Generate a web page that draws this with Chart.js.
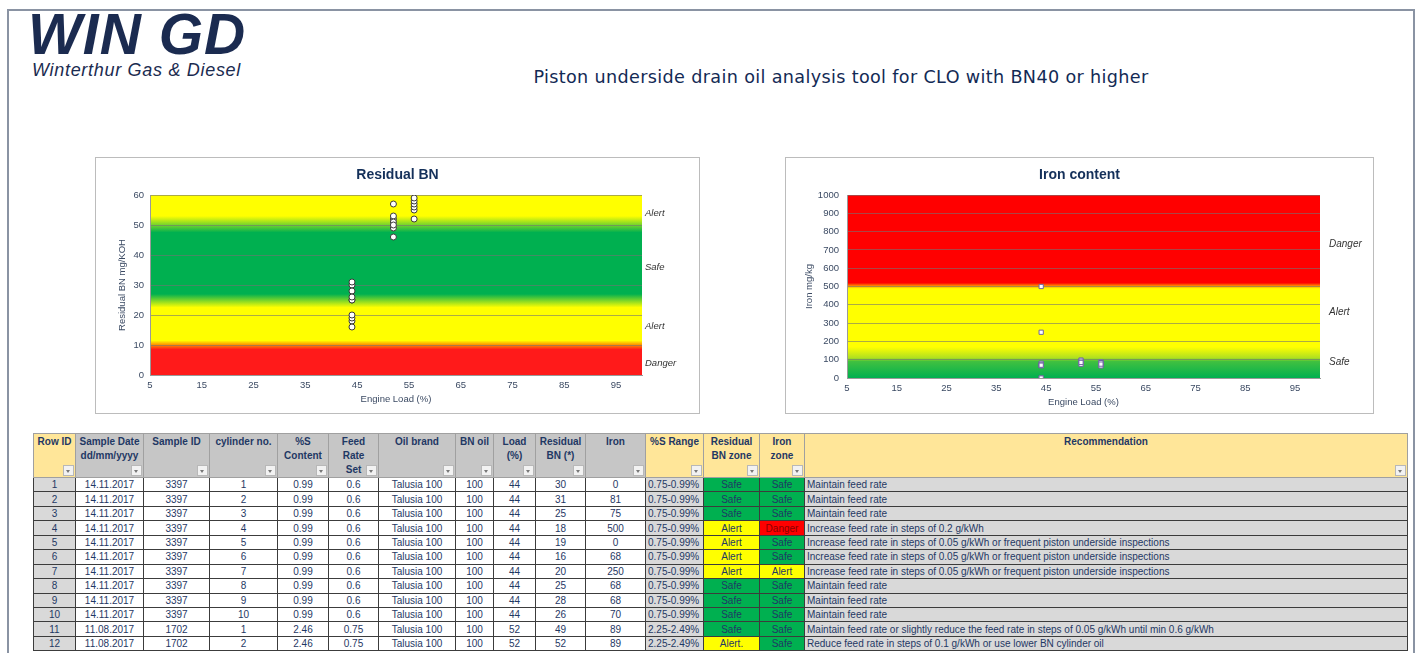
<!DOCTYPE html>
<html lang="en">
<head>
    <meta charset="UTF-8">
    <title>Piston underside drain oil analysis tool</title>
    <style>
        body {
            margin: 0;
            width: 1419px;
            height: 653px;
            overflow: hidden;
            background: #fff;
            font-family: "Liberation Sans", Arial, sans-serif;
            position: relative;
        }
        .frame {
            position: absolute;
            left: 7px;
            top: 9px;
            width: 1404px;
            height: 700px;
            border: 2px solid #8a93a3;
            border-bottom: none;
        }
        .logo {
            position: absolute;
            left: 28px;
            top: 6px;
            font-size: 57px;
            line-height: 57px;
            font-weight: bold;
            font-style: italic;
            color: #1b2b50;
            letter-spacing: 1px;
        }
        .logo-sub {
            position: absolute;
            left: 32px;
            top: 61px;
            font-size: 18px;
            line-height: 18px;
            font-style: italic;
            color: #1b2b50;
            letter-spacing: 0.7px;
        }
        .page-title {
            position: absolute;
            left: 441px;
            top: 67px;
            width: 800px;
            text-align: center;
            font-family: "DejaVu Sans", Verdana, sans-serif;
            font-size: 17.6px;
            line-height: 20px;
            letter-spacing: 0.35px;
            color: #132a55;
        }
        .chart-box {
            position: absolute;
            border: 1px solid #bcbcbc;
            background: #fff;
        }
        .chart-box canvas {
            display: block;
        }
        #sheet {
            position: absolute;
            left: 33px;
            top: 433px;
            width: 1374px;
            border-collapse: collapse;
            table-layout: fixed;
            color: #1f3864;
        }
        #sheet th {
            height: 42px;
            padding: 1px 2px 0;
            vertical-align: top;
            font-size: 10px;
            line-height: 14px;
            font-weight: bold;
            border: 1px solid #a0a0a0;
            position: relative;
            white-space: pre-line;
        }
        #sheet td {
            height: 13.45px;
            padding: 0 2px;
            font-size: 10px;
            line-height: 13px;
            border: 1px solid #3c3c3c;
            white-space: nowrap;
            overflow: hidden;
        }
        .flt {
            position: absolute;
            right: 1px;
            bottom: 1px;
            width: 11px;
            height: 11px;
            box-sizing: border-box;
            background: #f2f2f2;
            border: 1px solid #b8b8b8;
        }
        .flt::after {
            content: '';
            position: absolute;
            left: 2px;
            top: 4px;
            border-left: 2.5px solid transparent;
            border-right: 2.5px solid transparent;
            border-top: 3px solid #777;
        }
    </style>
    <script src="https://cdn.jsdelivr.net/npm/chart.js"></script>
</head>
<body>

    <div class="frame"></div>
    <div class="logo">WIN GD</div>
    <div class="logo-sub">Winterthur Gas &amp; Diesel</div>
    <div class="page-title">Piston underside drain oil analysis tool for CLO with BN40 or higher</div>

    <div class="chart-box" style="left:95px; top:157px;">
        <canvas id="bnChart" width="603" height="255"></canvas>
    </div>
    <div class="chart-box" style="left:785px; top:157px;">
        <canvas id="ironChart" width="587" height="255"></canvas>
    </div>

    <table id="sheet"></table>

    <script>
        // ---- chart data: every sample (load %, residual BN, iron) ----
        const loadTicks = [5, 15, 25, 35, 45, 55, 65, 75, 85, 95];
        const sampleLoad = [44, 44, 44, 44, 44, 44, 44, 44, 44, 44,
                            52, 52, 52, 52, 52, 52, 52,
                            56, 56, 56, 56, 56, 56];
        const sampleBN = [30, 31, 25, 18, 19, 16, 20, 25, 28, 26,
                          49, 52, 57, 53, 51, 50, 46,
                          52, 55, 56, 57, 58, 59];
        const sampleIron = [0, 81, 75, 500, 0, 68, 250, 68, 68, 70,
                            89, 89, 98, 80, 75, 92, 85,
                            88, 80, 72, 66, 84, 76];

        const bnZoneNames = ['Alert', 'Safe', 'Alert', 'Danger'];
        const bnZoneAt = [54, 36, 16.3, 4];
        const ironZoneNames = ['Danger', 'Alert', 'Safe'];
        const ironZoneAt = [732, 360, 86];

        // ---- table data: first rows of the sample list ----
        const rowIds = [1, 2, 3, 4, 5, 6, 7, 8, 9, 10, 11, 12];
        const sampleDates = ['14.11.2017', '14.11.2017', '14.11.2017', '14.11.2017', '14.11.2017', '14.11.2017',
                             '14.11.2017', '14.11.2017', '14.11.2017', '14.11.2017', '11.08.2017', '11.08.2017'];
        const sampleIds = [3397, 3397, 3397, 3397, 3397, 3397, 3397, 3397, 3397, 3397, 1702, 1702];
        const cylinders = [1, 2, 3, 4, 5, 6, 7, 8, 9, 10, 1, 2];
        const sulphur = ['0.99', '0.99', '0.99', '0.99', '0.99', '0.99', '0.99', '0.99', '0.99', '0.99', '2.46', '2.46'];
        const feedRates = ['0.6', '0.6', '0.6', '0.6', '0.6', '0.6', '0.6', '0.6', '0.6', '0.6', '0.75', '0.75'];
        const oilBrands = Array(12).fill('Talusia 100');
        const bnOil = Array(12).fill(100);
        const loads = [44, 44, 44, 44, 44, 44, 44, 44, 44, 44, 52, 52];
        const residualBN = [30, 31, 25, 18, 19, 16, 20, 25, 28, 26, 49, 52];
        const ironContent = [0, 81, 75, 500, 0, 68, 250, 68, 68, 70, 89, 89];
        const sRanges = ['0.75-0.99%', '0.75-0.99%', '0.75-0.99%', '0.75-0.99%', '0.75-0.99%', '0.75-0.99%',
                         '0.75-0.99%', '0.75-0.99%', '0.75-0.99%', '0.75-0.99%', '2.25-2.49%', '2.25-2.49%'];
        const bnZones = ['Safe', 'Safe', 'Safe', 'Alert', 'Alert', 'Alert', 'Alert', 'Safe', 'Safe', 'Safe', 'Safe', 'Alert.'];
        const ironZones = ['Safe', 'Safe', 'Safe', 'Danger', 'Safe', 'Safe', 'Alert', 'Safe', 'Safe', 'Safe', 'Safe', 'Safe'];
        const recommendations = [
            'Maintain feed rate',
            'Maintain feed rate',
            'Maintain feed rate',
            'Increase feed rate in steps of 0.2 g/kWh',
            'Increase feed rate in steps of 0.05 g/kWh or frequent piston underside inspections',
            'Increase feed rate in steps of 0.05 g/kWh or frequent piston underside inspections',
            'Increase feed rate in steps of 0.05 g/kWh or frequent piston underside inspections',
            'Maintain feed rate',
            'Maintain feed rate',
            'Maintain feed rate',
            'Maintain feed rate or slightly reduce the feed rate in steps of 0.05 g/kWh until min 0.6 g/kWh',
            'Reduce feed rate in steps of 0.1 g/kWh or use lower BN cylinder oil'
        ];

        // colour bands behind the plots, as [value, colour]
        const bnBands = [[0, '#ff1a1a'], [8.5, '#ff1a1a'], [10, '#ff8c00'], [11.5, '#ffff00'], [22.5, '#ffff00'],
                         [27, '#00b050'], [47.5, '#00b050'], [53, '#ffff00'], [60, '#ffff00']];
        const ironBands = [[0, '#00b050'], [90, '#40c040'], [110, '#b0e020'], [170, '#ffff00'], [488, '#ffff00'],
                           [505, '#ff8000'], [520, '#ff0000'], [1000, '#ff0000']];

        Chart.defaults.font.family = '"Liberation Sans", Arial, sans-serif';
        const tickColor = '#3b4a63';
        const titleColor = '#14305a';

        function zoneBackground(bands) {
            return {
                id: 'zoneBackground',
                beforeDraw(chart) {
                    const {ctx, chartArea, scales: {y}} = chart;
                    const g = ctx.createLinearGradient(0, y.getPixelForValue(y.min), 0, y.getPixelForValue(y.max));
                    bands.forEach(([v, c]) => g.addColorStop((v - y.min) / (y.max - y.min), c));
                    ctx.save();
                    ctx.fillStyle = g;
                    ctx.fillRect(chartArea.left, chartArea.top, chartArea.width, chartArea.height);
                    ctx.restore();
                }
            };
        }

        function zoneLabels(names, at, gap, size) {
            return {
                id: 'zoneLabels',
                afterDraw(chart) {
                    const {ctx, chartArea, scales: {y}} = chart;
                    ctx.save();
                    ctx.font = 'italic ' + size + 'px "Liberation Sans", Arial, sans-serif';
                    ctx.fillStyle = '#333';
                    ctx.textBaseline = 'middle';
                    names.forEach((t, i) => ctx.fillText(t, chartArea.right + gap, y.getPixelForValue(at[i])));
                    ctx.restore();
                }
            };
        }

        function makeChart(id, cfg) {
            new Chart(document.getElementById(id), {
                type: 'scatter',
                data: {
                    datasets: [{
                        data: sampleLoad.map((x, i) => ({x: x, y: cfg.values[i]})),
                        pointStyle: cfg.pointStyle,
                        pointRadius: cfg.radius,
                        pointBackgroundColor: '#fff',
                        pointBorderColor: cfg.pointBorder,
                        pointBorderWidth: 1
                    }]
                },
                options: {
                    responsive: false,
                    animation: false,
                    devicePixelRatio: 1,
                    layout: {padding: 0},
                    plugins: {
                        legend: {display: false},
                        tooltip: {enabled: false},
                        title: {
                            display: true,
                            text: cfg.title,
                            color: titleColor,
                            font: {size: 14, weight: 'bold'},
                            padding: {top: 9, bottom: 11.2}
                        }
                    },
                    scales: {
                        x: {
                            type: 'linear',
                            min: 5,
                            max: 100,
                            afterBuildTicks: s => { s.ticks = loadTicks.map(v => ({value: v})); },
                            afterFit: s => { s.height = cfg.xHeight; },
                            grid: {display: false, drawTicks: false},
                            border: {display: true, color: '#9a9a9a'},
                            ticks: {color: tickColor, font: {size: 9.5}, padding: 5, maxRotation: 0},
                            title: {display: true, text: 'Engine Load (%)', color: tickColor,
                                    font: {size: 9.5}, padding: {top: 0, bottom: cfg.xTitlePad}}
                        },
                        y: {
                            type: 'linear',
                            min: 0,
                            max: cfg.max,
                            afterFit: s => { s.width = cfg.yWidth; },
                            grid: {color: 'rgba(115,115,115,0.6)', drawTicks: false},
                            border: {display: true, color: '#9a9a9a'},
                            ticks: {stepSize: cfg.step, color: tickColor, font: {size: 9.5}, padding: cfg.yTickPad,
                                    callback: v => String(v)},
                            title: {display: true, text: cfg.yTitle, color: tickColor,
                                    font: {size: 9.5}, padding: {top: cfg.yTitlePad, bottom: 0}}
                        },
                        side: {
                            type: 'linear',
                            position: 'right',
                            afterFit: s => { s.width = cfg.sideWidth; },
                            ticks: {display: false},
                            grid: {display: false, drawTicks: false},
                            border: {display: false}
                        }
                    }
                },
                plugins: [zoneBackground(cfg.bands), zoneLabels(cfg.zoneNames, cfg.zoneAt, cfg.zoneGap, cfg.zoneSize)]
            });
        }

        makeChart('bnChart', {
            title: 'Residual BN',
            values: sampleBN,
            max: 60,
            step: 10,
            yTitle: 'Residual BN mg/KOH',
            bands: bnBands,
            zoneNames: bnZoneNames,
            zoneAt: bnZoneAt,
            zoneGap: 3,
            zoneSize: 9.5,
            pointStyle: 'circle',
            radius: 3,
            pointBorder: '#3a3a3a',
            yWidth: 54,
            sideWidth: 57,
            xHeight: 38,
            xTitlePad: 8,
            yTitlePad: 21,
            yTickPad: 6
        });

        makeChart('ironChart', {
            title: 'Iron content',
            values: sampleIron,
            max: 1000,
            step: 100,
            yTitle: 'Iron mg/kg',
            bands: ironBands,
            zoneNames: ironZoneNames,
            zoneAt: ironZoneAt,
            zoneGap: 9,
            zoneSize: 10,
            pointStyle: 'rect',
            radius: 3,
            pointBorder: '#6f64a0',
            yWidth: 61,
            sideWidth: 53,
            xHeight: 35,
            xTitlePad: 5,
            yTitlePad: 18,
            yTickPad: 8
        });

        // ---- sample table ----
        const headYellow = '#ffe699';
        const headGray = '#c6c6c6';
        const cellGray = '#d9d9d9';
        const zoneColors = {Safe: '#00b050', Alert: '#ffff00', 'Alert.': '#ffff00', Danger: '#ff0000'};

        const columns = [
            {head: 'Row ID', w: 42, hbg: headYellow, bg: cellGray, values: rowIds},
            {head: 'Sample Date\ndd/mm/yyyy', w: 68, hbg: headGray, values: sampleDates},
            {head: 'Sample ID', w: 66, hbg: headGray, values: sampleIds},
            {head: 'cylinder no.', w: 68, hbg: headGray, values: cylinders},
            {head: '%S\nContent', w: 51, hbg: headGray, values: sulphur},
            {head: 'Feed\nRate\nSet', w: 50, hbg: headGray, values: feedRates},
            {head: 'Oil brand', w: 77, hbg: headGray, values: oilBrands},
            {head: 'BN oil', w: 38, hbg: headGray, values: bnOil},
            {head: 'Load\n(%)', w: 42, hbg: headGray, values: loads},
            {head: 'Residual\nBN (*)', w: 50, hbg: headGray, values: residualBN},
            {head: 'Iron', w: 60, hbg: headGray, values: ironContent},
            {head: '%S Range', w: 58, hbg: headYellow, bg: cellGray, align: 'left', values: sRanges},
            {head: 'Residual\nBN zone', w: 56, hbg: headYellow, zone: true, values: bnZones},
            {head: 'Iron\nzone', w: 45, hbg: headYellow, zone: true, values: ironZones},
            {head: 'Recommendation', w: 603, hbg: headYellow, bg: cellGray, align: 'left', values: recommendations}
        ];

        const sheet = document.getElementById('sheet');
        const colgroup = document.createElement('colgroup');
        columns.forEach(c => {
            const col = document.createElement('col');
            col.style.width = c.w + 'px';
            colgroup.appendChild(col);
        });
        sheet.appendChild(colgroup);

        const headRow = sheet.insertRow();
        columns.forEach(c => {
            const th = document.createElement('th');
            th.textContent = c.head;
            th.style.background = c.hbg;
            const btn = document.createElement('span');
            btn.className = 'flt';
            th.appendChild(btn);
            headRow.appendChild(th);
        });

        rowIds.forEach((_, r) => {
            const tr = sheet.insertRow();
            columns.forEach(c => {
                const td = tr.insertCell();
                const v = c.values[r];
                td.textContent = v;
                td.style.textAlign = c.align || 'center';
                if (c.zone) {
                    td.style.background = zoneColors[v];
                    if (v === 'Danger') td.style.color = '#8b0000';
                } else {
                    td.style.background = c.bg || '#fff';
                }
            });
        });
    </script>

</body>
</html>
